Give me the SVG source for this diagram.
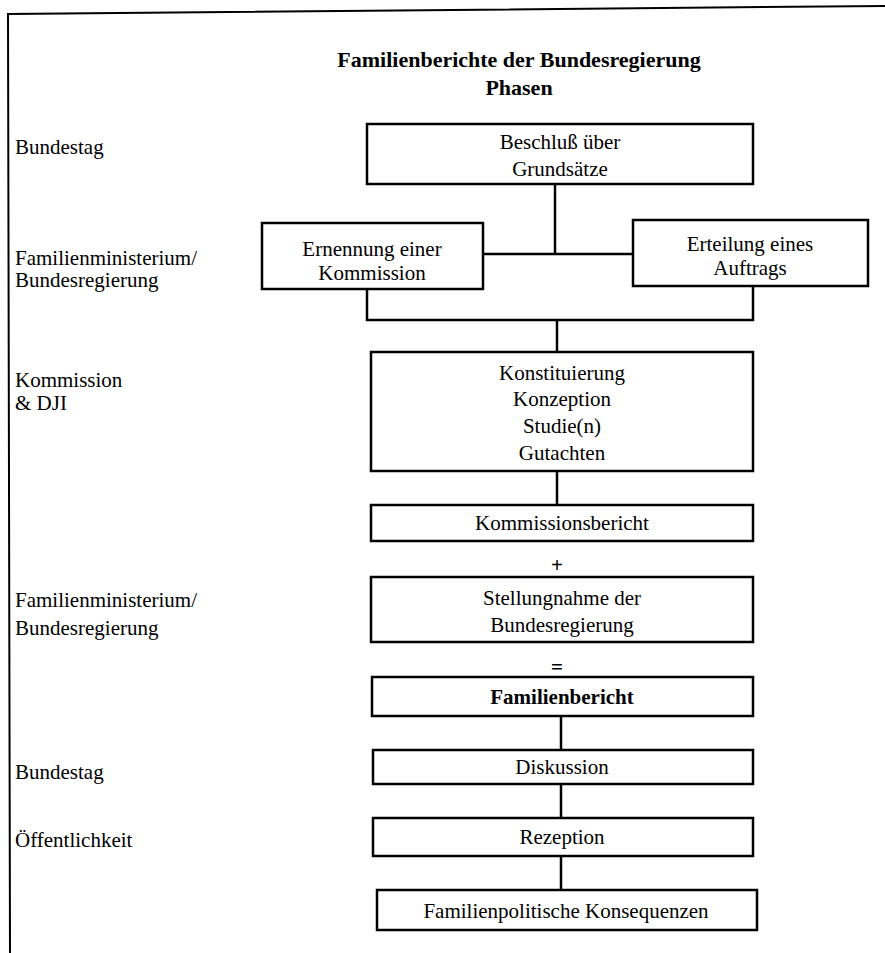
<svg xmlns="http://www.w3.org/2000/svg" width="885" height="953" viewBox="0 0 885 953">
<style>
text{font-family:"Liberation Serif","Times New Roman",serif;fill:#000}
.t{font-size:21px;text-anchor:middle}
.l{font-size:21px}
.h{font-size:22px;font-weight:bold;text-anchor:middle}
.b{font-weight:bold}
rect{fill:#fff;stroke:#000;stroke-width:2.5}
.c line,.c polyline{stroke:#000;stroke-width:2.5;fill:none}
.f{stroke:#000;stroke-width:2;fill:none}
</style>
<rect x="0" y="0" width="885" height="953" style="stroke:none;fill:#fff"/>
<g id="frame">
<polyline class="f" points="10,953 8,14 885,6"/>
</g>
<g id="title">
<text class="h" x="519" y="67">Familienberichte der Bundesregierung</text>
<text class="h" x="519" y="95">Phasen</text>
</g>
<g id="labels">
<text class="l" x="15" y="154">Bundestag</text>
<text class="l" x="15" y="265">Familienministerium/</text>
<text class="l" x="15" y="287">Bundesregierung</text>
<text class="l" x="15" y="387">Kommission</text>
<text class="l" x="15" y="410">&amp; DJI</text>
<text class="l" x="15" y="607">Familienministerium/</text>
<text class="l" x="15" y="635">Bundesregierung</text>
<text class="l" x="15" y="779">Bundestag</text>
<text class="l" x="15" y="847">Öffentlichkeit</text>
</g>
<g class="c" id="connectors">
<line x1="555" y1="184" x2="555" y2="254"/>
<line x1="483" y1="254" x2="633" y2="254"/>
<polyline points="367,289 367,320 753,320 753,286"/>
<line x1="557" y1="320" x2="557" y2="352"/>
<line x1="557" y1="471" x2="557" y2="505"/>
<line x1="561" y1="716" x2="561" y2="750"/>
<line x1="561" y1="784" x2="561" y2="818"/>
<line x1="561" y1="856" x2="561" y2="890"/>
</g>
<g id="n-beschluss">
<rect x="367" y="124" width="386" height="60"/>
<text class="t" x="560" y="149">Beschluß über</text>
<text class="t" x="560" y="176">Grundsätze</text>
</g>
<g id="n-ernennung">
<rect x="262" y="223" width="221" height="66"/>
<text class="t" x="372" y="256">Ernennung einer</text>
<text class="t" x="372" y="280">Kommission</text>
</g>
<g id="n-erteilung">
<rect x="633" y="220" width="235" height="66"/>
<text class="t" x="750" y="251">Erteilung eines</text>
<text class="t" x="750" y="275">Auftrags</text>
</g>
<g id="n-konstituierung">
<rect x="371" y="352" width="382" height="119"/>
<text class="t" x="562" y="380">Konstituierung</text>
<text class="t" x="562" y="406">Konzeption</text>
<text class="t" x="562" y="433">Studie(n)</text>
<text class="t" x="562" y="460">Gutachten</text>
</g>
<g id="n-kommissionsbericht">
<rect x="371" y="505" width="382" height="36"/>
<text class="t" x="562" y="530">Kommissionsbericht</text>
</g>
<g id="plus">
<text class="t b" x="557" y="572">+</text>
</g>
<g id="n-stellungnahme">
<rect x="371" y="577" width="382" height="65"/>
<text class="t" x="562" y="605">Stellungnahme der</text>
<text class="t" x="562" y="632">Bundesregierung</text>
</g>
<g id="equals">
<text class="t b" x="557" y="674">=</text>
</g>
<g id="n-familienbericht">
<rect x="372" y="677" width="381" height="39"/>
<text class="t b" x="562" y="704">Familienbericht</text>
</g>
<g id="n-diskussion">
<rect x="373" y="750" width="380" height="34"/>
<text class="t" x="562" y="774">Diskussion</text>
</g>
<g id="n-rezeption">
<rect x="373" y="818" width="380" height="38"/>
<text class="t" x="562" y="844">Rezeption</text>
</g>
<g id="n-konsequenzen">
<rect x="377" y="890" width="380" height="40"/>
<text class="t" x="566" y="918">Familienpolitische Konsequenzen</text>
</g>
</svg>
